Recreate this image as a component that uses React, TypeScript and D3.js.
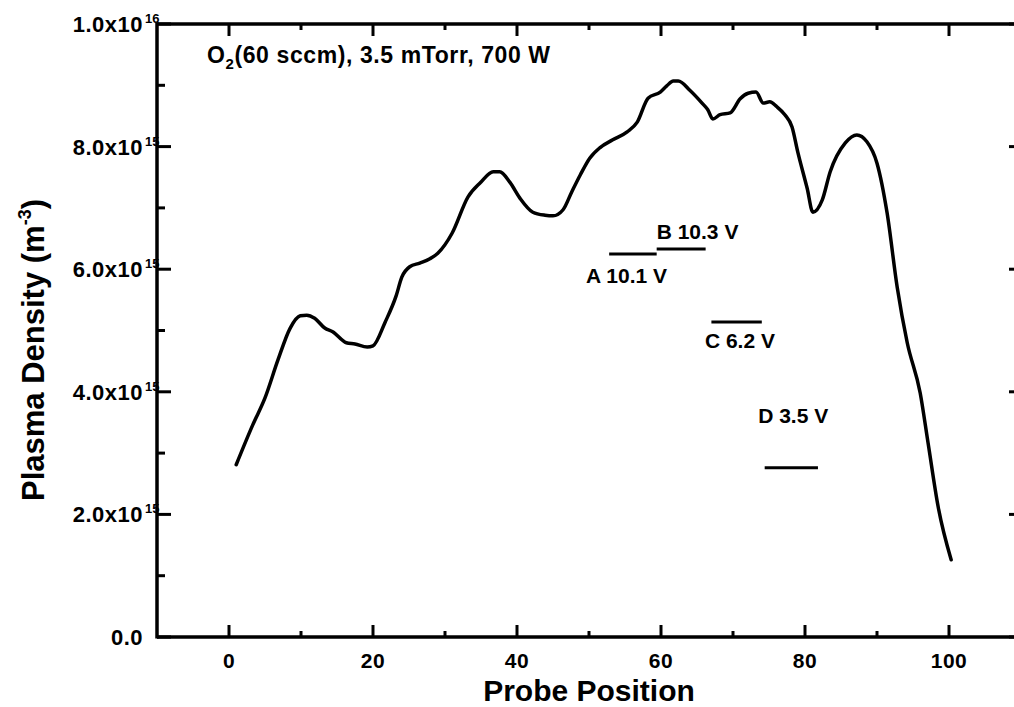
import React from "react";
import * as d3 from "d3";

// Probe position (x) and plasma density (units of 1e15 m^-3)
const positions = [1.0, 3.3, 5.0, 6.8, 8.5, 9.9, 10.8, 11.9, 13.3, 14.4, 16.3, 17.5, 19.2, 20.0, 21.7, 23.2, 24.0, 25.1, 26.5, 27.9, 29.0, 31.0, 33.2, 34.9, 36.7, 37.6, 39.0, 40.4, 42.2, 43.9, 45.0, 46.4, 47.6, 48.8, 50.1, 51.5, 53.3, 55.3, 56.7, 58.2, 59.9, 60.8, 61.7, 62.4, 64.0, 65.7, 66.5, 67.2, 68.2, 69.6, 71.0, 72.1, 73.2, 74.2, 75.1, 76.1, 77.2, 78.2, 79.0, 80.3, 81.1, 82.4, 83.5, 85.6, 87.2, 88.6, 90.0, 91.4, 92.8, 94.2, 96.0, 97.1, 98.5, 100.3];
const density = [2.81, 3.46, 3.90, 4.52, 5.04, 5.24, 5.25, 5.20, 5.04, 4.98, 4.80, 4.78, 4.73, 4.75, 5.14, 5.56, 5.87, 6.04, 6.10, 6.17, 6.26, 6.59, 7.18, 7.41, 7.59, 7.59, 7.42, 7.16, 6.93, 6.88, 6.87, 6.97, 7.26, 7.54, 7.81, 7.98, 8.11, 8.24, 8.40, 8.79, 8.89, 8.99, 9.07, 9.07, 8.92, 8.71, 8.60, 8.45, 8.52, 8.55, 8.78, 8.87, 8.89, 8.71, 8.73, 8.65, 8.52, 8.32, 7.91, 7.32, 6.93, 7.13, 7.59, 8.06, 8.19, 8.08, 7.73, 6.92, 5.71, 4.80, 3.98, 3.16, 2.12, 1.26];

// Annotated probe bias segments
const segLabels = ["A 10.1 V", "B 10.3 V", "C 6.2 V", "D 3.5 V"];
const segStart = [52.8, 59.4, 67.0, 74.4];
const segEnd = [59.4, 66.2, 74.0, 81.8];
const segLevel = [6.25, 6.33, 5.14, 2.76];
const segLabelX = [49.6, 59.4, 66.1, 73.5];
const segLabelY = [5.77, 6.49, 4.71, 3.49];

const xMajorTicks = [0, 20, 40, 60, 80, 100];
const xMinorTicks = [10, 30, 50, 70, 90];
const yMajorTicks = [0, 2e15, 4e15, 6e15, 8e15, 1e16];
const yMinorTicks = [1e15, 3e15, 5e15, 7e15, 9e15];

const titleText = "(60 sccm), 3.5 mTorr, 700 W";
const xTitle = "Probe Position";
const yTitle = "Plasma Density (m";

const FONT = "'Liberation Sans', Arial, Helvetica, sans-serif";

export default function App() {
  const W = 1014, H = 707;
  const x = d3.scaleLinear().domain([-10, 110]).range([157, 1021]);
  const y = d3.scaleLinear().domain([0, 1e16]).range([637, 24]);
  const pts: [number, number][] = positions.map((p, i) => [p, density[i] * 1e15]);
  const line = d3
    .line<[number, number]>()
    .x((d) => x(d[0]))
    .y((d) => y(d[1]))
    .curve(d3.curveMonotoneX);

  const left = x(-10), right = x(110), top = y(1e16), bottom = y(0);
  const axisW = 3.5;

  const yLabel = (v: number) => {
    if (v === 0) return { main: "0.0", exp: "" };
    if (v >= 1e16) return { main: (v / 1e16).toFixed(1) + "x10", exp: "16" };
    return { main: (v / 1e15).toFixed(1) + "x10", exp: "15" };
  };

  return (
    <svg width={W} height={H} style={{ position: "absolute", left: 0, top: 0, background: "#fff" }} fontFamily={FONT} fontWeight="bold">
      <rect x={0} y={0} width={W} height={H} fill="#fff" />
      {/* frame */}
      <g stroke="#000" strokeWidth={axisW} fill="none">
        <line x1={left} x2={left} y1={top - 1.5} y2={bottom + 1.5} />
        <line x1={left} x2={right} y1={bottom} y2={bottom} />
        <line x1={left} x2={right} y1={top} y2={top} />
        <line x1={right} x2={right} y1={top} y2={bottom} />
      </g>
      {/* ticks */}
      <g stroke="#000" strokeWidth={3}>
        {xMajorTicks.map((t) => (
          <g key={"xM" + t}>
            <line x1={x(t)} x2={x(t)} y1={bottom} y2={bottom - 12} />
            <line x1={x(t)} x2={x(t)} y1={top} y2={top + 12} />
          </g>
        ))}
        {xMinorTicks.map((t) => (
          <g key={"xm" + t}>
            <line x1={x(t)} x2={x(t)} y1={bottom} y2={bottom - 6} />
            <line x1={x(t)} x2={x(t)} y1={top} y2={top + 6} />
          </g>
        ))}
        {yMajorTicks.map((t) => (
          <g key={"yM" + t}>
            <line x1={left} x2={left + 14} y1={y(t)} y2={y(t)} />
            <line x1={right} x2={right - 12} y1={y(t)} y2={y(t)} />
          </g>
        ))}
        {yMinorTicks.map((t) => (
          <g key={"ym" + t}>
            <line x1={left} x2={left + 8} y1={y(t)} y2={y(t)} />
            <line x1={right} x2={right - 7} y1={y(t)} y2={y(t)} />
          </g>
        ))}
      </g>
      {/* x tick labels */}
      {xMajorTicks.map((t) => (
        <text key={"xl" + t} x={x(t)} y={668} textAnchor="middle" fontSize={21} letterSpacing={0.5}>
          {t}
        </text>
      ))}
      {/* y tick labels */}
      {yMajorTicks.map((t) => {
        const l = yLabel(t);
        return (
          <g key={"yl" + t}>
            <text x={143} y={y(t) + 8} textAnchor="end" fontSize={22} letterSpacing={0.5}>
              {l.main}
            </text>
            {l.exp && (
              <text x={145} y={y(t) - 1} fontSize={13}>
                {l.exp}
              </text>
            )}
          </g>
        );
      })}
      {/* curve */}
      <path d={line(pts) || ""} fill="none" stroke="#000" strokeWidth={3.5} strokeLinejoin="round" strokeLinecap="round" />
      {/* segments */}
      {segLabels.map((s, i) => (
        <g key={s}>
          <line x1={x(segStart[i])} x2={x(segEnd[i])} y1={y(segLevel[i] * 1e15)} y2={y(segLevel[i] * 1e15)} stroke="#000" strokeWidth={3} />
          <text x={x(segLabelX[i])} y={y(segLabelY[i] * 1e15)} fontSize={21}>
            {s}
          </text>
        </g>
      ))}
      {/* condition text */}
      <text x={207} y={63} fontSize={23} letterSpacing={0.6}>
        O<tspan fontSize={15} dy={6}>2</tspan>
        <tspan dy={-6}>{titleText}</tspan>
      </text>
      {/* axis titles */}
      <text x={589} y={701} textAnchor="middle" fontSize={30}>
        {xTitle}
      </text>
      <text transform={`translate(44, 350) rotate(-90)`} textAnchor="middle" fontSize={31}>
        {yTitle}
        <tspan fontSize={18} dy={-13}>-3</tspan>
        <tspan dy={13}>)</tspan>
      </text>
    </svg>
  );
}
